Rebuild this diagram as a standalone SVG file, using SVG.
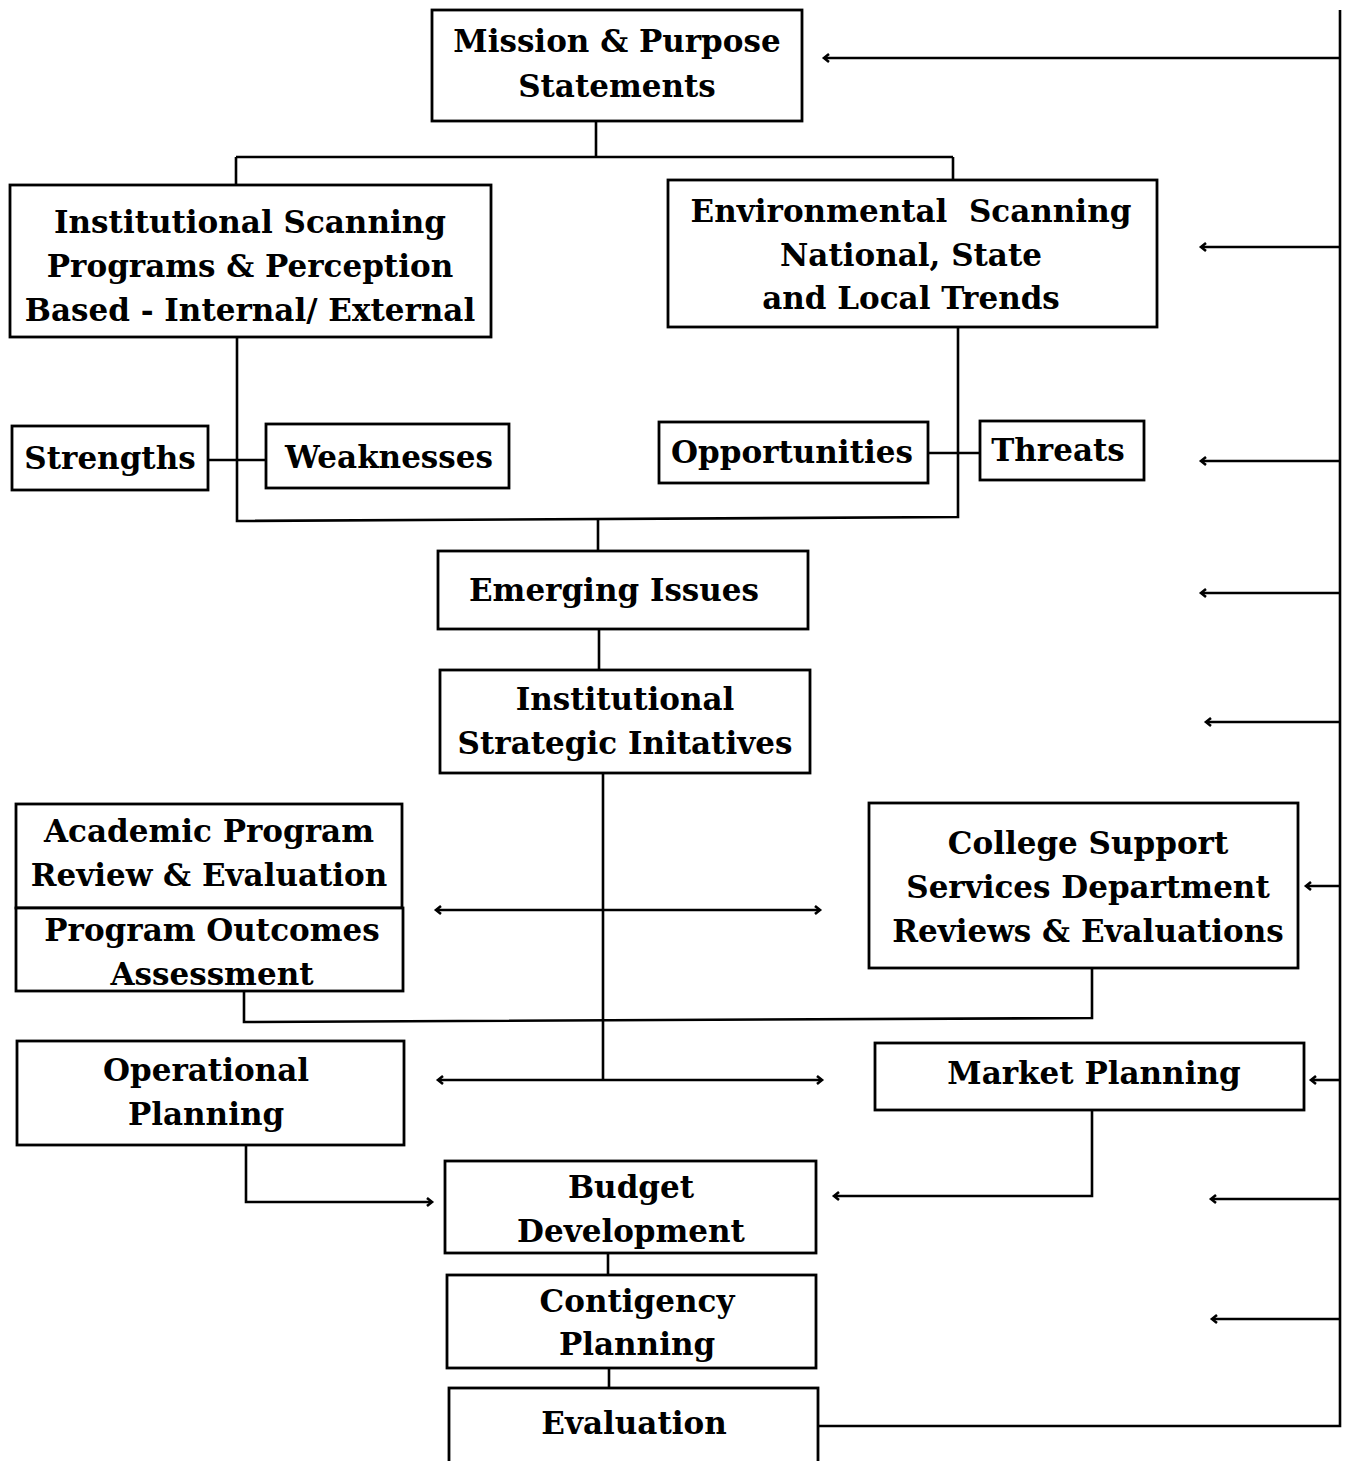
<svg xmlns="http://www.w3.org/2000/svg" width="1355" height="1461" viewBox="0 0 1355 1461">
<style>
.box{fill:#fff;stroke:#000;stroke-width:2.8}
.t{font-family:"DejaVu Serif","Liberation Serif",serif;font-weight:bold;font-size:31px;text-anchor:middle;fill:#000}
.c{fill:none;stroke:#000;stroke-width:2.6}
</style>
<defs>
<marker id="ah" markerWidth="10" markerHeight="12" refX="6" refY="6" orient="auto" markerUnits="userSpaceOnUse">
<path d="M2,2 L7,6 L2,10" fill="none" stroke="#000" stroke-width="2.6"/>
</marker>
</defs>
<g id="connectors">
<path class="c" d="M596,121 V157 M236,157 H953 M236,157 V185 M953,157 V180"/>
<path class="c" d="M237,337 V521 L958,517 V327"/>
<path class="c" d="M208,460 H266 M928,453 H980"/>
<path class="c" d="M598,519 V551 M599,629 V670"/>
<path class="c" d="M603,773 V1080"/>
<path class="c" d="M603,910 H437" marker-end="url(#ah)"/>
<path class="c" d="M603,910 H819" marker-end="url(#ah)"/>
<path class="c" d="M244,991 V1022 L1092,1018 V968"/>
<path class="c" d="M603,1080 H439" marker-end="url(#ah)"/>
<path class="c" d="M603,1080 H821" marker-end="url(#ah)"/>
<path class="c" d="M246,1145 V1202 H431" marker-end="url(#ah)"/>
<path class="c" d="M1092,1110 V1196 H835" marker-end="url(#ah)"/>
<path class="c" d="M608,1253 V1275 M609,1368 V1388"/>
<path class="c" d="M818,1426 H1340 V10"/>
<path class="c" d="M1340,58 H825" marker-end="url(#ah)"/>
<path class="c" d="M1340,247 H1202" marker-end="url(#ah)"/>
<path class="c" d="M1340,461 H1202" marker-end="url(#ah)"/>
<path class="c" d="M1340,593 H1202" marker-end="url(#ah)"/>
<path class="c" d="M1340,722 H1207" marker-end="url(#ah)"/>
<path class="c" d="M1340,886 H1307" marker-end="url(#ah)"/>
<path class="c" d="M1340,1080 H1312" marker-end="url(#ah)"/>
<path class="c" d="M1340,1199 H1212" marker-end="url(#ah)"/>
<path class="c" d="M1340,1319 H1213" marker-end="url(#ah)"/>
</g>
<g id="mission"><rect class="box" x="432" y="10" width="370" height="111"/>
<text class="t" x="617" y="52">Mission &amp; Purpose</text><text class="t" x="617" y="97">Statements</text></g>
<g id="institutional-scanning"><rect class="box" x="10" y="185" width="481" height="152"/>
<text class="t" x="250" y="233">Institutional Scanning</text><text class="t" x="250" y="277">Programs &amp; Perception</text><text class="t" x="250" y="321">Based - Internal/ External</text></g>
<g id="environmental-scanning"><rect class="box" x="668" y="180" width="489" height="147"/>
<text class="t" x="911" y="222" xml:space="preserve">Environmental  Scanning</text><text class="t" x="911" y="266">National, State</text><text class="t" x="911" y="309">and Local Trends</text></g>
<g id="strengths"><rect class="box" x="12" y="426" width="196" height="64"/>
<text class="t" x="110" y="469">Strengths</text></g>
<g id="weaknesses"><rect class="box" x="266" y="424" width="243" height="64"/>
<text class="t" x="389" y="468">Weaknesses</text></g>
<g id="opportunities"><rect class="box" x="659" y="422" width="269" height="61"/>
<text class="t" x="792" y="463">Opportunities</text></g>
<g id="threats"><rect class="box" x="980" y="421" width="164" height="59"/>
<text class="t" x="1058" y="461">Threats</text></g>
<g id="emerging-issues"><rect class="box" x="438" y="551" width="370" height="78"/>
<text class="t" x="614" y="601">Emerging Issues</text></g>
<g id="strategic-initiatives"><rect class="box" x="440" y="670" width="370" height="103"/>
<text class="t" x="625" y="710">Institutional</text><text class="t" x="625" y="754">Strategic Initatives</text></g>
<g id="academic-review"><rect class="box" x="16" y="804" width="386" height="104"/>
<text class="t" x="209" y="842">Academic Program</text><text class="t" x="209" y="886">Review &amp; Evaluation</text></g>
<g id="program-outcomes"><rect class="box" x="16" y="908" width="387" height="83"/>
<text class="t" x="212" y="941">Program Outcomes</text><text class="t" x="212" y="985">Assessment</text></g>
<g id="college-support"><rect class="box" x="869" y="803" width="429" height="165"/>
<text class="t" x="1088" y="854">College Support</text><text class="t" x="1088" y="898">Services Department</text><text class="t" x="1088" y="942">Reviews &amp; Evaluations</text></g>
<g id="operational-planning"><rect class="box" x="17" y="1041" width="387" height="104"/>
<text class="t" x="206" y="1081">Operational</text><text class="t" x="206" y="1125">Planning</text></g>
<g id="market-planning"><rect class="box" x="875" y="1043" width="429" height="67"/>
<text class="t" x="1094" y="1084">Market Planning</text></g>
<g id="budget-development"><rect class="box" x="445" y="1161" width="371" height="92"/>
<text class="t" x="631" y="1198">Budget</text><text class="t" x="631" y="1242">Development</text></g>
<g id="contingency-planning"><rect class="box" x="447" y="1275" width="369" height="93"/>
<text class="t" x="637" y="1312">Contigency</text><text class="t" x="637" y="1355">Planning</text></g>
<g id="evaluation"><rect class="box" x="449" y="1388" width="369" height="100"/>
<text class="t" x="634" y="1434">Evaluation</text></g>
</svg>
